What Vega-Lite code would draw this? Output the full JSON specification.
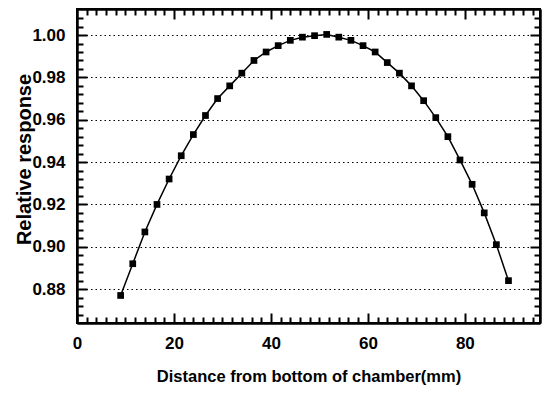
{
  "$schema": "https://vega.github.io/schema/vega-lite/v6.json",
  "autosize": {"type": "none"},
  "padding": {"left": 77, "top": 9, "right": 3, "bottom": 73},
  "width": 463,
  "height": 314,
  "config": {
    "view": {"stroke": "black", "strokeWidth": 2},
    "axis": {"tickWidth": 2, "labelColor": "black", "titleColor": "black", "domainColor": "#000000", "domainWidth": 2, "zindex": 1}
  },
  "data": {
    "values": [
      {"x": 9, "y": 0.877}, {"x": 11.5, "y": 0.892}, {"x": 14, "y": 0.907}, {"x": 16.5, "y": 0.920},
      {"x": 19, "y": 0.932}, {"x": 21.5, "y": 0.943}, {"x": 24, "y": 0.953}, {"x": 26.5, "y": 0.962},
      {"x": 29, "y": 0.970}, {"x": 31.5, "y": 0.976}, {"x": 34, "y": 0.982}, {"x": 36.5, "y": 0.988},
      {"x": 39, "y": 0.992}, {"x": 41.5, "y": 0.995}, {"x": 44, "y": 0.9975}, {"x": 46.5, "y": 0.999},
      {"x": 49, "y": 0.9997}, {"x": 51.5, "y": 1.0003}, {"x": 54, "y": 0.999}, {"x": 56.5, "y": 0.9975},
      {"x": 59, "y": 0.995}, {"x": 61.5, "y": 0.992}, {"x": 64, "y": 0.987}, {"x": 66.5, "y": 0.982},
      {"x": 69, "y": 0.976}, {"x": 71.5, "y": 0.969}, {"x": 74, "y": 0.961}, {"x": 76.5, "y": 0.952},
      {"x": 79, "y": 0.941}, {"x": 81.5, "y": 0.9295}, {"x": 84, "y": 0.916}, {"x": 86.5, "y": 0.901},
      {"x": 89, "y": 0.884}
    ]
  },
  "resolve": {"axis": {"x": "independent", "y": "independent"}},
  "layer": [
    {
      "mark": {"type": "line", "color": "black", "strokeWidth": 1.5},
      "encoding": {
        "x": {"field": "x", "type": "quantitative",
          "scale": {"domain": [0, 95.5], "nice": false},
          "axis": {"orient": "bottom", "values": [0, 20, 40, 60, 80], "tickSize": -10, "tickColor": "#000000", "grid": false,
            "labelFlush": false, "labelOverlap": false,
            "labelFont": "Liberation Sans, Arial", "labelFontSize": 17, "labelFontWeight": "bold", "labelPadding": 22,
            "title": "Distance from bottom of chamber(mm)",
            "titleFont": "Liberation Sans, Arial", "titleFontSize": 16.5, "titleFontWeight": "bold", "titlePadding": 17}},
        "y": {"field": "y", "type": "quantitative",
          "scale": {"domain": [0.864, 1.0123], "nice": false, "zero": false},
          "axis": {"orient": "left", "values": [0.88, 0.90, 0.92, 0.94, 0.96, 0.98, 1.00], "format": ".2f", "tickSize": -10, "tickColor": "#000000",
            "grid": true, "gridColor": "black", "gridDash": [1.5, 3], "gridWidth": 1, "gridOpacity": 1,
            "labelOverlap": false,
            "labelFont": "Liberation Sans, Arial", "labelFontSize": 17, "labelFontWeight": "bold", "labelPadding": 22,
            "title": "Relative response",
            "titleFont": "Liberation Sans, Arial", "titleFontSize": 20, "titleFontWeight": "bold",
            "titleX": -47, "titleY": 150, "titleBaseline": "alphabetic", "titleAngle": -90}}
      }
    },
    {
      "mark": {"type": "square", "color": "black", "filled": true, "size": 45, "opacity": 1},
      "encoding": {
        "x": {"field": "x", "type": "quantitative", "scale": {"domain": [0, 95.5], "nice": false},
          "axis": {"orient": "bottom", "values": [2,4,6,8,10,12,14,16,18,22,24,26,28,30,32,34,36,38,42,44,46,48,50,52,54,56,58,62,64,66,68,70,72,74,76,78,82,84,86,88,90,92,94], "labels": false, "gridOpacity": 0, "tickSize": -6, "tickColor": "#000000", "title": null}},
        "y": {"field": "y", "type": "quantitative", "scale": {"domain": [0.864, 1.0123], "nice": false, "zero": false},
          "axis": {"orient": "left", "values": [0.868,0.872,0.876,0.884,0.888,0.892,0.896,0.904,0.908,0.912,0.916,0.924,0.928,0.932,0.936,0.944,0.948,0.952,0.956,0.964,0.968,0.972,0.976,0.984,0.988,0.992,0.996,1.004,1.008], "labels": false, "gridOpacity": 0, "tickSize": -6, "tickColor": "#000000", "title": null}}
      }
    },
    {
      "mark": {"type": "point", "opacity": 0},
      "encoding": {
        "x": {"field": "x", "type": "quantitative", "scale": {"domain": [0, 95.5], "nice": false},
          "axis": {"orient": "top", "values": [20, 40, 60, 80], "labels": false, "gridOpacity": 0, "tickSize": -10, "tickColor": "#000000", "title": null}},
        "y": {"field": "y", "type": "quantitative", "scale": {"domain": [0.864, 1.0123], "nice": false, "zero": false},
          "axis": {"orient": "right", "values": [0.88, 0.90, 0.92, 0.94, 0.96, 0.98, 1.00], "labels": false, "gridOpacity": 0, "tickSize": -10, "tickColor": "#000000", "title": null}}
      }
    },
    {
      "mark": {"type": "point", "opacity": 0},
      "encoding": {
        "x": {"field": "x", "type": "quantitative", "scale": {"domain": [0, 95.5], "nice": false},
          "axis": {"orient": "top", "values": [2,4,6,8,10,12,14,16,18,22,24,26,28,30,32,34,36,38,42,44,46,48,50,52,54,56,58,62,64,66,68,70,72,74,76,78,82,84,86,88,90,92,94], "labels": false, "gridOpacity": 0, "tickSize": -6, "tickColor": "#000000", "title": null}},
        "y": {"field": "y", "type": "quantitative", "scale": {"domain": [0.864, 1.0123], "nice": false, "zero": false},
          "axis": {"orient": "right", "values": [0.868,0.872,0.876,0.884,0.888,0.892,0.896,0.904,0.908,0.912,0.916,0.924,0.928,0.932,0.936,0.944,0.948,0.952,0.956,0.964,0.968,0.972,0.976,0.984,0.988,0.992,0.996,1.004,1.008], "labels": false, "gridOpacity": 0, "tickSize": -6, "tickColor": "#000000", "title": null}}
      }
    }
  ]
}
